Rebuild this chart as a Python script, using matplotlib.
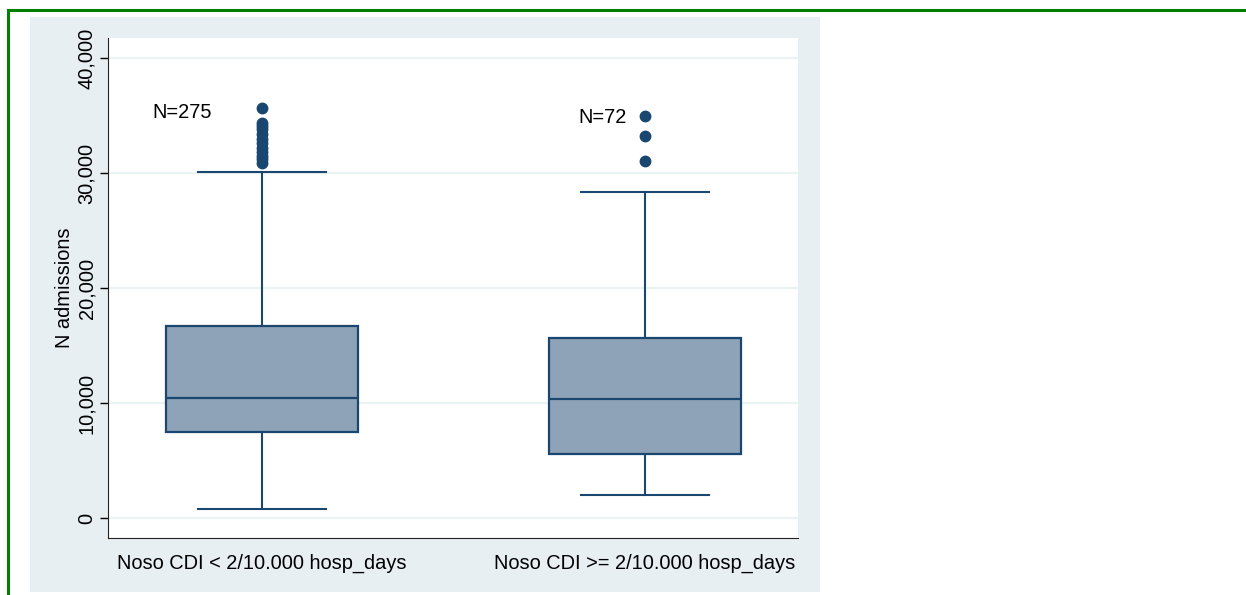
import matplotlib.pyplot as plt
from matplotlib.patches import Rectangle

plt.rcParams['font.family'] = ['Liberation Sans', 'DejaVu Sans']

# box summaries per group
groups = ['Noso CDI < 2/10.000 hosp_days', 'Noso CDI >= 2/10.000 hosp_days']
n_obs = [275, 72]
whislo = [800, 2000]
q1 = [7480, 5570]
med = [10450, 10350]
q3 = [16700, 15650]
whishi = [30050, 28350]
outliers = [
    [30900, 31200, 31500, 31800, 32200, 32600, 33000, 33400, 33800, 34100, 34350, 35650],
    [31050, 33200, 34950],
]
yticks = [0, 10000, 20000, 30000, 40000]

navy = '#1a476f'
fill = '#8ea3b8'
panel = '#e8eff2'
fs = 14.4

fig = plt.figure(figsize=(12.46, 5.95), dpi=100)
W, H = 1246, 595

# outer green frame and the light graph region, kept behind the axes
fig.patches.append(Rectangle((8 / W, -0.1), 1.2, 1.1 - 10 / H, transform=fig.transFigure,
                             fill=False, edgecolor='#008000', lw=2.2, zorder=-2))
fig.patches.append(Rectangle((30 / W, 1 - 592 / H), (820 - 30) / W, (592 - 17) / H,
                             transform=fig.transFigure, facecolor=panel, edgecolor='none', zorder=-1))

ax = fig.add_axes([108 / W, 1 - 538 / H, (798 - 108) / W, (538 - 38) / H])
ax.set_facecolor('white')

stats = []
for i in range(len(groups)):
    stats.append({'whislo': whislo[i], 'q1': q1[i], 'med': med[i], 'q3': q3[i],
                  'whishi': whishi[i], 'fliers': outliers[i]})

ax.bxp(stats, positions=[1, 2], widths=0.5, capwidths=0.334, patch_artist=True,
       boxprops=dict(facecolor=fill, edgecolor=navy, lw=1.6),
       medianprops=dict(color=navy, lw=1.6),
       whiskerprops=dict(color=navy, lw=1.5),
       capprops=dict(color=navy, lw=1.5),
       flierprops=dict(marker='o', markerfacecolor=navy, markeredgecolor=navy, markersize=7.5),
       zorder=3)

ax.text(0.791, 35300, 'N=%d' % n_obs[0], ha='center', va='center', fontsize=fs, color='black')
ax.text(1.888, 34870, 'N=%d' % n_obs[1], ha='center', va='center', fontsize=fs, color='black')

ax.set_xlim(0.598, 2.3995)
ax.set_ylim(-1740, 41740)
ax.set_yticks(yticks)
ax.set_yticklabels(['{:,}'.format(v) for v in yticks], rotation=90, va='center', fontsize=fs)
ax.set_xticks([1, 2])
ax.set_xticklabels(groups, fontsize=fs)
ax.tick_params(axis='x', length=0, pad=11)
ax.tick_params(axis='y', length=6, width=1, pad=2.5)
ax.set_ylabel('N admissions', fontsize=fs, labelpad=2)
ax.grid(axis='y', color='#eaf2f3', lw=1.6, zorder=0)
ax.set_axisbelow(True)

for side in ['top', 'right']:
    ax.spines[side].set_visible(False)
ax.spines['left'].set_color('#222222')
ax.spines['bottom'].set_color('#222222')

fig.savefig('out.png', dpi=100)
